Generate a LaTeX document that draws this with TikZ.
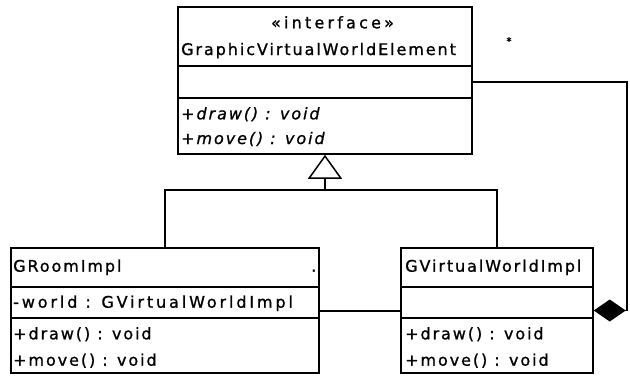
\documentclass[tikz,border=0pt]{standalone}
\usepackage{fontspec}
\setmainfont{DejaVu Sans}[LetterSpace=12, FakeBold=1]
\usetikzlibrary{arrows.meta}
\tikzset{
  umlbox/.style={draw, line width=1.5pt, inner sep=0pt},
  sep/.style={line width=1.5pt},
  edge/.style={line width=1.5pt},
  umltext/.style={anchor=base west, inner sep=0pt, font=\fontsize{16}{19}\selectfont},
  umlital/.style={umltext, font=\fontsize{16}{19}\selectfont\itshape},
}
\begin{document}
\begin{tikzpicture}[x=1pt,y=-1pt]
\useasboundingbox (0,0) rectangle (630,376);

% class frames
\node[umlbox, minimum width=294pt, minimum height=147pt] (gvwe) at (325,80.5) {};
\node[umlbox, minimum width=308pt, minimum height=125pt] (groom) at (165,310.5) {};
\node[umlbox, minimum width=192pt, minimum height=125pt] (gvirt) at (497,310.5) {};

% compartment separators
\draw[sep] (178,66) -- (472,66);
\draw[sep] (178,98) -- (472,98);
\draw[sep] (11,287) -- (319,287);
\draw[sep] (11,318) -- (319,318);
\draw[sep] (401,287) -- (593,287);
\draw[sep] (401,318) -- (593,318);

% interface
\node[umltext, anchor=base] (stereo) at (332.5,28.3) {\addfontfeatures{LetterSpace=20}«interface»};
\node[umltext] (gname) at (181,55) {GraphicVirtualWorldElement};
\node[umlital] (gdraw) at (181,119.3) {+draw() : void};
\node[umlital] (gmove) at (181,144) {+move() : void};
\node[inner sep=0pt, font=\fontsize{10}{10}\selectfont] (mult) at (509,41) {*};

% GRoomImpl
\node[umltext] (rname) at (13,271.7) {GRoomImpl};
\node[umltext] (rdot) at (311,271.7) {.};
\node[umltext] (rworld) at (13,307.7) {\addfontfeatures{LetterSpace=18}-world : GVirtualWorldImpl};
\node[umltext] (rdraw) at (13,339.3) {+draw() : void};
\node[umltext] (rmove) at (13,365.7) {+move() : void};

% GVirtualWorldImpl
\node[umltext] (vname) at (405,271.7) {GVirtualWorldImpl};
\node[umltext] (vdraw) at (405,339.3) {+draw() : void};
\node[umltext] (vmove) at (405,365.7) {+move() : void};

% realization of the interface
\coordinate (fork) at (325,190);
\draw[edge] (groom.north) |- (fork) -| (gvirt.north);
\draw[edge, -{Triangle[open, length=24pt, width=34pt]}] (fork) -- (gvwe.south);

% association between the two implementations
\draw[edge] ([yshift=-0.5pt]groom.east) -- ([yshift=-0.5pt]gvirt.west);

% composition back to the interface
\coordinate (ctop) at (627,82);
\coordinate (cbot) at (627,310.5);
\draw[edge, -{Diamond[length=32pt, width=22pt]}] (gvwe.east |- ctop) -- (ctop) -- (cbot) -- (gvirt.east);
\end{tikzpicture}
\end{document}
